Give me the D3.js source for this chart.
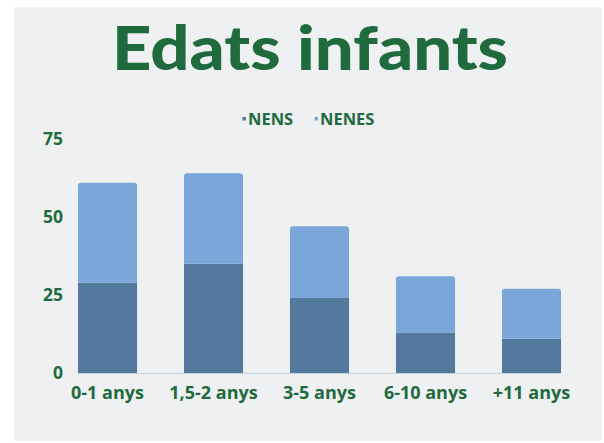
<!DOCTYPE html>
<html>
<head>
<meta charset="utf-8">
<script src="https://cdn.jsdelivr.net/npm/d3@7"></script>
<style>
  body { margin: 0; background: #ffffff; }
  svg { display: block; }
</style>
</head>
<body>
<div id="chart-container"></div>
<script>
  const categories = ["0-1 anys", "1,5-2 anys", "3-5 anys", "6-10 anys", "+11 anys"];
  const nens = [29, 35, 24, 13, 11];
  const nenes = [32, 29, 23, 18, 16];
  const seriesNames = ["NENS", "NENES"];
  const yTicks = [0, 25, 50, 75];

  const W = 604, H = 443;
  const green = "#1f6b3d";
  const colors = ["#54799f", "#7ba6d9"];

  const svg = d3.select("#chart-container")
      .append("svg")
      .attr("width", W)
      .attr("height", H);

  // panel background
  svg.append("rect")
      .attr("x", 14).attr("y", 7)
      .attr("width", W - 16).attr("height", H - 9)
      .attr("fill", "#eef0f2");

  // title
  svg.append("text")
      .attr("x", 310).attr("y", 70)
      .attr("text-anchor", "middle")
      .attr("font-family", "Lato, 'DejaVu Sans', sans-serif")
      .attr("font-weight", 900)
      .attr("font-size", 61)
      .attr("textLength", 396)
      .attr("lengthAdjust", "spacingAndGlyphs")
      .attr("fill", green)
      .text("Edats infants");

  // legend
  const legendX = [244, 316];
  const legend = svg.append("g");
  seriesNames.forEach((name, i) => {
    legend.append("rect")
        .attr("x", legendX[i] - 1.5).attr("y", 117)
        .attr("width", 3.5).attr("height", 3.5)
        .attr("fill", colors[i]);
    legend.append("text")
        .attr("x", legendX[i] + 4).attr("y", 125)
        .attr("font-family", "'Open Sans', sans-serif")
        .attr("font-weight", 700)
        .attr("font-size", 16.5)
        .attr("fill", green)
        .text(name);
  });

  const x = d3.scaleBand()
      .domain(categories)
      .range([54.5, 584.5])
      .paddingInner(0.443)
      .paddingOuter(0.2215);

  const y = d3.scaleLinear()
      .domain([0, 75])
      .range([373, 139]);

  const table = categories.map((c, i) => ({ cat: c, NENS: nens[i], NENES: nenes[i] }));
  const stacked = d3.stack().keys(seriesNames)(table);

  // baseline
  svg.append("line")
      .attr("x1", x(categories[0])).attr("x2", x(categories[categories.length - 1]) + x.bandwidth())
      .attr("y1", y(0) + 0.5).attr("y2", y(0) + 0.5)
      .attr("stroke", "#c9d3df")
      .attr("stroke-width", 1);

  const r = 3;
  stacked.forEach((layer, li) => {
    svg.append("g")
        .selectAll("path")
        .data(layer)
        .join("path")
        .attr("fill", colors[li])
        .attr("d", d => {
          const x0 = x(d.data.cat), x1 = x0 + x.bandwidth();
          const yt = y(d[1]), yb = y(d[0]);
          if (li === stacked.length - 1) {
            return `M${x0},${yb}V${yt + r}Q${x0},${yt} ${x0 + r},${yt}H${x1 - r}Q${x1},${yt} ${x1},${yt + r}V${yb}Z`;
          }
          return `M${x0},${yb}V${yt}H${x1}V${yb}Z`;
        });
  });

  // y axis labels
  const yAxis = svg.append("g")
      .attr("transform", "translate(63,0)")
      .call(d3.axisLeft(y).tickValues(yTicks).tickSize(0).tickPadding(0));
  yAxis.select(".domain").remove();
  yAxis.selectAll("text")
      .attr("font-family", "'Open Sans', sans-serif")
      .attr("font-weight", 700)
      .attr("font-size", 17.5)
      .attr("fill", green);

  // x axis labels
  const xAxis = svg.append("g")
      .attr("transform", "translate(0,380)")
      .call(d3.axisBottom(x).tickSize(0).tickPadding(0));
  xAxis.select(".domain").remove();
  xAxis.selectAll("text")
      .attr("dy", "0.71em")
      .attr("y", 6)
      .attr("font-family", "'Open Sans', sans-serif")
      .attr("font-weight", 700)
      .attr("font-size", 18)
      .attr("fill", green);
</script>
</body>
</html>
